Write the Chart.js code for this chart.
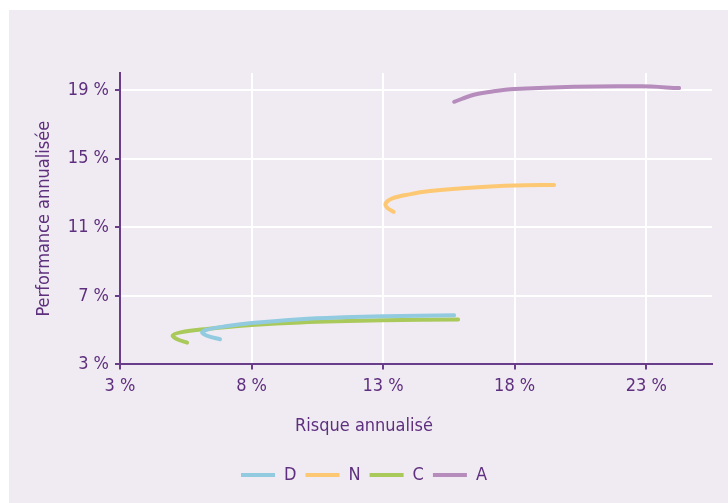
<!DOCTYPE html>
<html lang="fr">
<head>
    <meta charset="UTF-8" />
    <title>Risque / performance</title>
    <script src="https://cdn.jsdelivr.net/npm/chart.js"></script>
    <style>
        html, body { margin: 0; padding: 0; background: #ffffff; }
        #panel {
            position: absolute; left: 9px; top: 10px; right: 0; bottom: 0;
            background: #f0ebf2;
        }
        #wrap { position: absolute; left: 0; top: 0; width: 728px; height: 503px; }
    </style>
</head>
<body>
    <div id="panel"></div>
    <div id="wrap"><canvas id="chart" width="728" height="503"></canvas></div>
    <script>
        // tick values (in %)
        const xTicks = [3, 8, 13, 18, 23];
        const yTicks = [3, 7, 11, 15, 19];

        // series: risk (x) and performance (y)
        const seriesNames = ["D", "N", "C", "A"];
        const dRisk = [6.8, 6.35, 6.12, 6.3, 7.0, 8.0, 9.85, 11.5, 13.0, 15.7];
        const dPerf = [4.47, 4.65, 4.85, 5.02, 5.22, 5.41, 5.64, 5.75, 5.81, 5.87];
        const nRisk = [13.4, 13.15, 13.1, 13.35, 14.0, 14.7, 16.6, 18.0, 19.5];
        const nPerf = [11.9, 12.15, 12.4, 12.68, 12.92, 13.1, 13.33, 13.43, 13.47];
        const cRisk = [5.55, 5.2, 5.0, 5.3, 6.3, 8.0, 9.85, 13.0, 15.85];
        const cPerf = [4.27, 4.45, 4.68, 4.87, 5.07, 5.3, 5.45, 5.57, 5.62];
        const aRisk = [15.7, 16.45, 17.2, 18.0, 20.26, 22.8, 24.25];
        const aPerf = [18.32, 18.73, 18.93, 19.06, 19.2, 19.22, 19.12];

        const colors = ["#92cbe0", "#fdc874", "#a9c95a", "#b68cbd"];
        const purple = "#6a3d8a";
        const textPurple = "#5e2f7e";
        const fontFamily = "'Liberation Sans Narrow', 'DejaVu Sans Condensed', 'Roboto', sans-serif";

        const toPoints = (xs, ys) => xs.map((x, i) => ({ x: x, y: ys[i] }));
        const allRisk = [dRisk, nRisk, cRisk, aRisk];
        const allPerf = [dPerf, nPerf, cPerf, aPerf];

        const datasets = seriesNames.map((name, i) => ({
            label: name,
            data: toPoints(allRisk[i], allPerf[i]),
            borderColor: colors[i],
            backgroundColor: colors[i],
            borderWidth: 4,
            borderCapStyle: "round",
            showLine: true,
            tension: 0.35,
            pointRadius: 0,
            pointHoverRadius: 0,
            pointStyle: "line",
        }));

        new Chart(document.getElementById("chart").getContext("2d"), {
            type: "scatter",
            data: { datasets: datasets },
            options: {
                responsive: false,
                animation: false,
                layout: { padding: { top: 73, right: 0, left: 0, bottom: 9 } },
                plugins: {
                    tooltip: { enabled: false },
                    legend: {
                        position: "bottom",
                        // the x axis title sits centred on the page, above the legend
                        title: {
                            display: true,
                            text: "Risque annualisé",
                            color: textPurple,
                            padding: { top: 11, bottom: 18 },
                            font: { family: fontFamily, size: 18 },
                        },
                        labels: {
                            usePointStyle: true,
                            pointStyleWidth: 34,
                            padding: 9,
                            color: textPurple,
                            font: { family: fontFamily, size: 18 },
                        },
                    },
                },
                scales: {
                    x: {
                        type: "linear",
                        min: 3,
                        max: 25.5,
                        afterBuildTicks: (scale) => { scale.ticks = xTicks.map(v => ({ value: v })); },
                        afterFit: (scale) => { scale.height = 42; },
                        border: { color: purple, width: 2 },
                        grid: { color: "#ffffff", lineWidth: 2, tickColor: purple, tickLength: 5 },
                        ticks: {
                            color: textPurple,
                            padding: 6,
                            font: { family: fontFamily, size: 18 },
                            callback: (v) => v + " %",
                        },
                    },
                    y: {
                        type: "linear",
                        min: 3,
                        max: 20,
                        afterBuildTicks: (scale) => { scale.ticks = yTicks.map(v => ({ value: v })); },
                        afterFit: (scale) => { scale.width = 120; },
                        border: { color: purple, width: 2 },
                        grid: { color: "#ffffff", lineWidth: 2, tickColor: purple, tickLength: 5 },
                        ticks: {
                            color: textPurple,
                            padding: 6,
                            font: { family: fontFamily, size: 18 },
                            callback: (v) => v + " %",
                        },
                        title: {
                            display: true,
                            text: "Performance annualisée",
                            color: textPurple,
                            padding: { top: 34, bottom: 0 },
                            font: { family: fontFamily, size: 18 },
                        },
                    },
                    // empty right-hand strip, keeps the plot ending 16px before the edge
                    yRight: {
                        position: "right",
                        afterFit: (scale) => { scale.width = 16; },
                        ticks: { display: false },
                        grid: { display: false },
                        border: { display: false },
                    },
                },
            },
        });
    </script>
</body>
</html>
